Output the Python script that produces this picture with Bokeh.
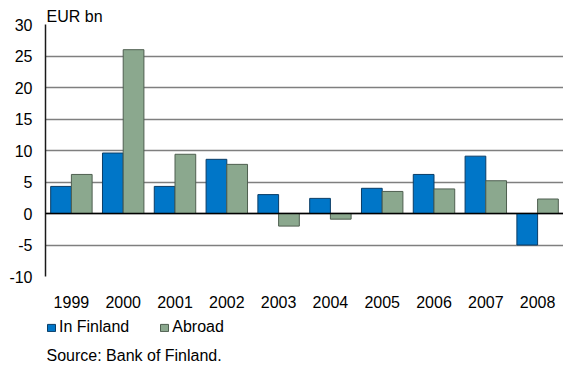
from bokeh.plotting import figure
from bokeh.layouts import column
from bokeh.models import (ColumnDataSource, FactorRange, Range1d, Span, Title, Label,
                          Legend, LegendItem, FixedTicker)
from bokeh.transform import dodge
from bokeh.embed import file_html
from bokeh.resources import INLINE

years = ["1999", "2000", "2001", "2002", "2003", "2004", "2005", "2006", "2007", "2008"]
in_finland = [4.3, 9.6, 4.3, 8.6, 3.0, 2.4, 4.0, 6.2, 9.1, -5.0]
abroad = [6.2, 26.0, 9.4, 7.8, -2.0, -0.9, 3.5, 3.9, 5.2, 2.3]
y_ticks = [-10, -5, 0, 5, 10, 15, 20, 25, 30]
y_tick_labels = ["-10", "-5", "0", "5", "10", "15", "20", "25", "30"]
series_names = ["In Finland", "Abroad"]
unit_label = "EUR bn"
source_text = "Source: Bank of Finland."

FONT = "Liberation Sans"
FS = "16px"
BLUE = "#0076C8"
BLUE_EDGE = "#0B3D66"
GREEN = "#8BA88E"
GREEN_EDGE = "#4F5F50"

src = ColumnDataSource(dict(year=years, fin=in_finland, abr=abroad))

p = figure(width=563, height=314, x_range=FactorRange(*years, range_padding=0),
           y_range=Range1d(-10, 30), output_backend="svg", toolbar_location=None,
           min_border_left=45, min_border_right=0, min_border_top=24,
           min_border_bottom=38)
p.outline_line_color = None
p.background_fill_color = "white"

p.vbar(x=dodge("year", -0.2, range=p.x_range), top="fin", width=0.4, source=src,
       fill_color=BLUE, line_color=BLUE_EDGE, line_width=1)
p.vbar(x=dodge("year", 0.2, range=p.x_range), top="abr", width=0.4, source=src,
       fill_color=GREEN, line_color=GREEN_EDGE, line_width=1)

p.yaxis.ticker = FixedTicker(ticks=y_ticks)
p.yaxis.major_label_overrides = dict(zip(y_ticks, y_tick_labels))
p.ygrid.ticker = FixedTicker(ticks=y_ticks)
p.ygrid.grid_line_color = "#7f7f7f"
p.ygrid.grid_line_width = 1.5
p.xgrid.grid_line_color = None

p.yaxis.axis_line_color = "#1a1a1a"
p.yaxis.axis_line_width = 1.5
p.yaxis.major_tick_line_color = None
p.yaxis.minor_tick_line_color = None
p.yaxis.major_tick_out = 0
p.yaxis.major_tick_in = 0
p.yaxis.major_label_standoff = 13
p.yaxis.major_label_text_font = FONT
p.yaxis.major_label_text_font_size = FS
p.yaxis.major_label_text_color = "black"

p.xaxis.axis_line_color = None
p.xaxis.major_tick_line_color = None
p.xaxis.minor_tick_line_color = None
p.xaxis.major_tick_out = 0
p.xaxis.major_tick_in = 0
p.xaxis.major_label_standoff = 19
p.xaxis.major_label_text_font = FONT
p.xaxis.major_label_text_font_size = FS
p.xaxis.major_label_text_color = "black"

p.add_layout(Span(location=0, dimension="width", line_color="black", line_width=1.5))

p.add_layout(Title(text=unit_label, align="left", offset=1, standoff=0,
                   text_font=FONT, text_font_size=FS, text_font_style="normal",
                   text_color="black"), "above")

# Legend + source strip (bars here lie outside the visible y range)
p2 = figure(width=563, height=51, x_range=FactorRange(*years, range_padding=0),
            y_range=Range1d(100, 101), output_backend="svg", toolbar_location=None,
            x_axis_type=None, y_axis_type=None, min_border_left=0,
            min_border_right=0, min_border_top=0, min_border_bottom=0)
p2.outline_line_color = None
p2.grid.visible = False
e1 = p2.vbar(x="year", top="fin", width=0.4, source=src,
             fill_color=BLUE, line_color=BLUE_EDGE)
e2 = p2.vbar(x="year", top="abr", width=0.4, source=src,
             fill_color=GREEN, line_color=GREEN_EDGE)

legend = Legend(items=[LegendItem(label=series_names[0], renderers=[e1]),
                       LegendItem(label=series_names[1], renderers=[e2])],
                location=(1, 29), orientation="horizontal",
                glyph_width=10, glyph_height=9, label_standoff=3, spacing=30,
                padding=0, margin=0, border_line_color=None,
                background_fill_alpha=0, label_text_font=FONT,
                label_text_font_size=FS, label_text_color="black")
p2.add_layout(legend)

p2.add_layout(Label(x=1, y=10, x_units="screen", y_units="screen", text=source_text,
                    text_font=FONT, text_font_size=FS, text_color="black",
                    text_baseline="alphabetic"))

layout = column(p, p2, spacing=0)
open("out.html", "w").write(file_html(layout, INLINE))
